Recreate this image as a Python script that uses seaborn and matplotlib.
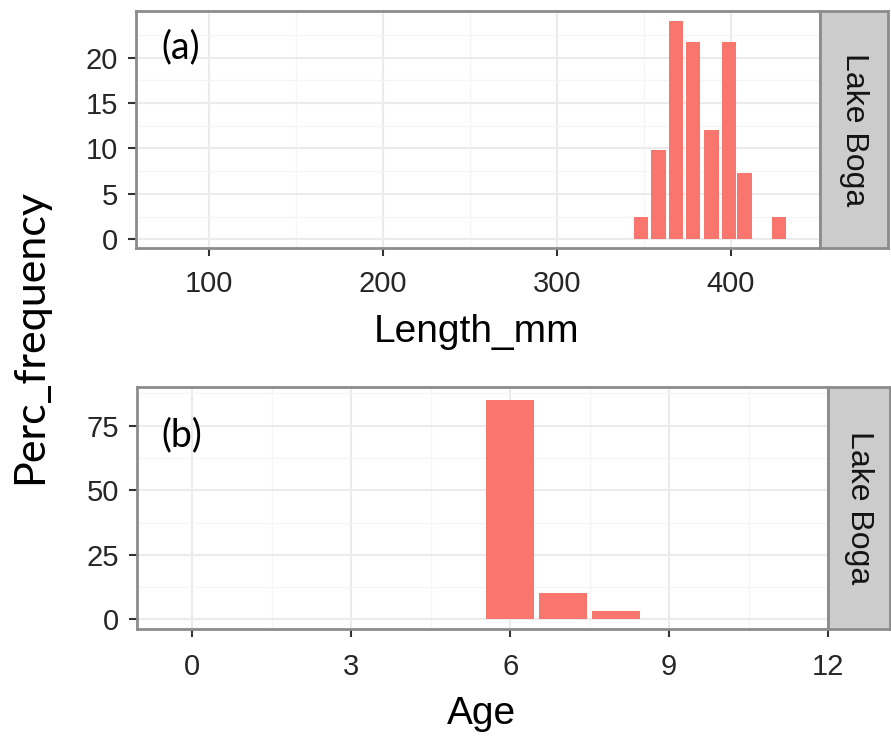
import matplotlib
matplotlib.use("Agg")
import matplotlib.pyplot as plt
import seaborn as sns
import pandas as pd
from matplotlib.ticker import FixedLocator

# Percentage frequency of fish by length bin and by age, Lake Boga
length_mm = [348.5, 358.5, 368.5, 378.5, 389, 399, 408, 428]
length_perc = [2.5, 9.8, 24.0, 21.7, 12.0, 21.7, 7.3, 2.5]
age_yr = [6, 7, 8]
age_perc = [85.0, 10.1, 3.2]
site = "Lake Boga"

length_xticks = [100, 200, 300, 400]
length_xminor = [150, 250, 350]
length_yticks = [0, 5, 10, 15, 20]
length_yminor = [2.5, 7.5, 12.5, 17.5, 22.5]
age_xticks = [0, 3, 6, 9, 12]
age_xminor = [1.5, 4.5, 7.5, 10.5]
age_yticks = [0, 25, 50, 75]
age_yminor = [12.5, 37.5, 62.5, 87.5]

BAR = "#F8766D"
BORDER = "#8C8C8C"
W, H = 891, 739

sns.set_theme(style="white")
plt.rcParams["font.family"] = ["Liberation Sans", "DejaVu Sans"]

fig = plt.figure(figsize=(W / 100, H / 100), dpi=100)


def px_axes(x0, y0, x1, y1):
    return fig.add_axes([x0 / W, 1 - y1 / H, (x1 - x0) / W, (y1 - y0) / H])


def draw_panel(box, strip_box, df, x, y, xlim, ylim, xt, xm, yt, ym, xpad):
    ax = px_axes(*box)
    sns.barplot(data=df, x=x, y=y, native_scale=True, width=0.9,
                color=BAR, saturation=1, errorbar=None, ax=ax,
                linewidth=0, zorder=3)
    ax.set_xlim(*xlim)
    ax.set_ylim(*ylim)
    ax.xaxis.set_major_locator(FixedLocator(xt))
    ax.xaxis.set_minor_locator(FixedLocator(xm))
    ax.yaxis.set_major_locator(FixedLocator(yt))
    ax.yaxis.set_minor_locator(FixedLocator(ym))
    ax.set_xticklabels([str(v) for v in xt])
    ax.set_yticklabels([str(v) for v in yt])
    ax.set_axisbelow(True)
    ax.grid(which="major", color="#EBEBEB", lw=1.5)
    ax.grid(which="minor", color="#F5F5F5", lw=0.9)
    ax.set_xlabel("")
    ax.set_ylabel("")
    ax.tick_params(which="major", direction="out", length=6, width=1.5,
                   color="#333333", labelsize=21, labelcolor="#262626",
                   bottom=True, left=True)
    ax.tick_params(axis="x", pad=xpad)
    ax.tick_params(axis="y", pad=7)
    ax.tick_params(which="minor", length=0)
    for s in ax.spines.values():
        s.set_color(BORDER)
        s.set_linewidth(2)

    st = px_axes(*strip_box)
    st.set_facecolor("#CCCCCC")
    st.set_xticks([])
    st.set_yticks([])
    for s in st.spines.values():
        s.set_color(BORDER)
        s.set_linewidth(2)
    st.text(0.5, 0.5, site, rotation=-90, ha="center", va="center",
            fontsize=23, color="#141414", transform=st.transAxes)
    return ax


len_df = pd.DataFrame({"Length_mm": length_mm, "Perc_frequency": length_perc})
age_df = pd.DataFrame({"Age": age_yr, "Perc_frequency": age_perc})

draw_panel((136, 11, 820, 248), (820, 11, 888, 248), len_df,
           "Length_mm", "Perc_frequency", (58, 451.4), (-0.97, 25.14),
           length_xticks, length_xminor, length_yticks, length_yminor, 9.5)
draw_panel((137, 387, 828, 629), (828, 387, 890, 629), age_df,
           "Age", "Perc_frequency", (-1.045, 12.0), (-3.76, 90.0),
           age_xticks, age_xminor, age_yticks, age_yminor, 11)

lato = ["Lato", "DejaVu Sans"]
fig.text(181 / W, 1 - 47.5 / H, "(a)", ha="center", va="center",
         fontsize=27, family=lato, color="black")
fig.text(182 / W, 1 - 435.5 / H, "(b)", ha="center", va="center",
         fontsize=27, family=lato, color="black")
fig.text(30 / W, 1 - 337 / H, "Perc_frequency", rotation=90,
         ha="center", va="center", fontsize=31, family=lato, color="black")
fig.text(477 / W, 1 - 342 / H, "Length_mm", ha="center", va="baseline",
         fontsize=28, color="black")
fig.text(481 / W, 1 - 724 / H, "Age", ha="center", va="baseline",
         fontsize=28, color="black")

fig.savefig("out.png", dpi=100)
